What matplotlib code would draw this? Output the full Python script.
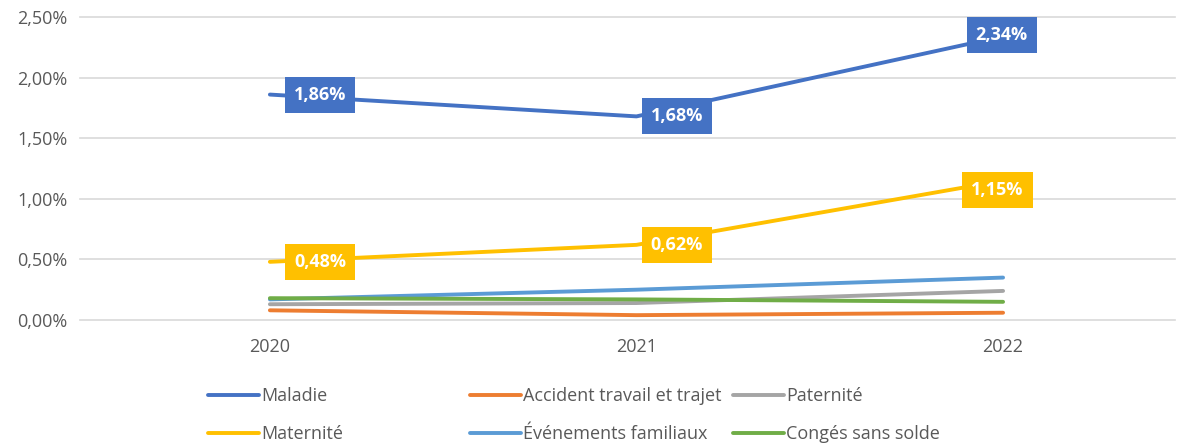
import matplotlib
matplotlib.use("Agg")
import matplotlib.pyplot as plt
from matplotlib.ticker import FuncFormatter, MultipleLocator

years = ["2020", "2021", "2022"]
maladie = [1.86, 1.68, 2.34]
accident = [0.08, 0.04, 0.06]
paternite = [0.13, 0.14, 0.24]
maternite = [0.48, 0.62, 1.15]
evenements = [0.17, 0.25, 0.35]
conges = [0.18, 0.17, 0.15]

series = [
    ("Maladie", maladie, "#4472C4"),
    ("Accident travail et trajet", accident, "#ED7D31"),
    ("Paternité", paternite, "#A5A5A5"),
    ("Maternité", maternite, "#FFC000"),
    ("Événements familiaux", evenements, "#5B9BD5"),
    ("Congés sans solde", conges, "#70AD47"),
]

plt.rcParams['font.family'] = ['Open Sans', 'DejaVu Sans']
W, H = 1178, 446
fig = plt.figure(figsize=(W / 100, H / 100), dpi=100)
ax = fig.add_axes([80 / W, (H - 320) / H, (1175 - 80) / W, (320 - 17) / H])

x = list(range(len(years)))
lines = {}
for name, vals, col in series:
    ln, = ax.plot(x, vals, color=col, lw=2.8, solid_capstyle='round', label=name)
    lines[name] = ln

ax.set_xlim(-0.518, 2.469)
ax.set_ylim(0, 2.5)
ax.yaxis.set_major_locator(MultipleLocator(0.5))
ax.yaxis.set_major_formatter(FuncFormatter(lambda v, p: f"{v:.2f}".replace(".", ",") + "%"))
ax.set_xticks(x)
ax.set_xticklabels(years)
ax.grid(axis='y', color='#D9D9D9', lw=1.2)
for gl in ax.get_ygridlines():
    gl.set_clip_on(False)
ax.set_axisbelow(True)
for s in ax.spines.values():
    s.set_visible(False)
ax.tick_params(length=0, colors='#595959', labelsize=13)
ax.tick_params(axis='x', pad=13)
ax.tick_params(axis='y', pad=9)

def fmt(v):
    return f"{v:.2f}".replace(".", ",") + "%"

offsets = {
    "Maladie": [(36, 0), (29, 0), (-1, 1)],
    "Maternité": [(36, 0), (29, 0), (-4, -7)],
}
for name, vals, col in series:
    if name not in offsets:
        continue
    for i, v in enumerate(vals):
        dx, dy = offsets[name][i]
        ax.annotate(fmt(v), (i, v), xytext=(dx, dy), textcoords='offset points',
                    ha='center', va='center', color='white', fontsize=13,
                    fontweight='bold',
                    bbox=dict(boxstyle='square,pad=0.5', fc=col, ec='none'))

cols = [["Maladie", "Maternité"], ["Accident travail et trajet", "Événements familiaux"],
        ["Paternité", "Congés sans solde"]]
xs = [208, 470, 733]
for cx, names in zip(xs, cols):
    fig.legend([lines[n] for n in names], names, loc='upper left',
               bbox_to_anchor=(cx / W, (H - 387) / H), frameon=False,
               fontsize=13, labelcolor='#595959', handlelength=2.8,
               handletextpad=0.15, labelspacing=1.13, borderpad=0, borderaxespad=0)

fig.savefig("out.png", dpi=100)
